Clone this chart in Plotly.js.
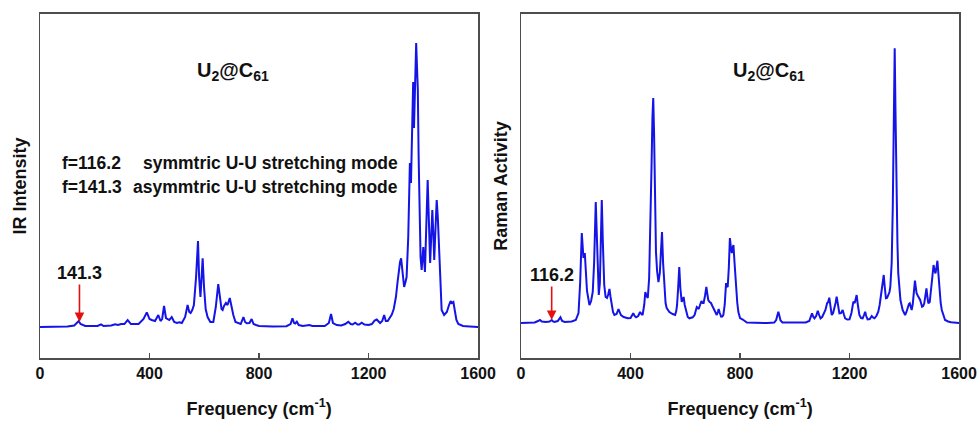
<!DOCTYPE html>
<html>
<head>
<meta charset="utf-8">
<script src="https://cdn.plot.ly/plotly-3.0.1.min.js"></script>
<style>html,body{margin:0;padding:0;background:#fff;}#chart{width:979px;height:421px;}</style>
</head>
<body>
<div id="chart"></div>
<script>
// IR spectrum (left panel): frequency (cm-1) and intensity (arb. units, baseline = 0)
const irFreq = [0,100,125,135,141,148,165,210,223,232,260,274,285,296,308,320,332,360,378,390,400,408,420,432,440,446,453,460,465,472,481,490,500,509,518,530,539,545,550,556,562,570,577,581,586,590,594,599,605,612,622,633,642,651,657,663,667,672,679,685,693,699,706,714,724,733,743,749,755,765,773,780,789,800,850,900,915,922,928,932,938,945,960,984,995,1040,1055,1063,1070,1084,1100,1115,1126,1135,1142,1151,1160,1166,1175,1185,1200,1212,1222,1230,1242,1250,1257,1263,1270,1278,1285,1292,1300,1306,1311,1315,1319,1324,1330,1335,1339,1345,1351,1355,1358,1363,1366,1370,1374,1377,1380,1383,1386,1390,1394,1400,1406,1411,1416,1420,1425,1429,1433,1437,1440,1444,1449,1453,1459,1463,1467,1476,1486,1494,1500,1505,1510,1516,1521,1528,1545,1570,1600];
const irInt  = [0,0.5,1.5,4,6,3,1,1,2.7,1,1.5,2.7,2,3,3,7,3,3,8,14.7,8,7,6,12,6,8,21,9,8,7,10,5,4,4.7,4,10,22,15,14,17,22,50,86,50,30,45,68.7,40,18,10,5,5,20,43,30,18,17,21,24,22,29,20,12,5,3.5,3,10,5,3.7,4,8,3,2,1,0.5,0.8,3,8.7,4,3.5,5.3,2,1,2,1,1,4,13,4,2,1.5,3,5.3,3,2.5,4.3,2.5,2.5,4.3,2.5,2,3,6.5,7.5,4,6,12,6,6,10,12.5,18,30,45,60,65,68.7,55,40,45,50,90,164,144,190,245,199,240,284,260,237,170,104,70,57,80,55,100,147,110,64,90,117,90,67,95,127,110,64,35,17,12,15,22,26,24,25,15,7,3,1,0.5,0];

// Raman spectrum (right panel): frequency (cm-1) and activity (arb. units, baseline = 0)
const ramanFreq = [0,50,62,69,76,91,104,112,117,122,134,144,150,160,185,200,210,216,222,225,228,233,236,241,250,256,262,267,273,277,281,284,288,291,295,299,304,309,314,318,323,327,331,336,341,349,356,362,365,375,390,400,410,415,420,428,435,440,444,450,454,459,463,468,472,477,480,483,486,489,493,497,502,507,511,515,519,524,528,532,542,554,563,567,570,574,578,582,587,591,594,598,603,609,615,621,627,634,642,646,649,654,659,663,667,672,677,680,684,689,694,699,704,710,715,719,722,726,731,735,739,744,749,752,755,759,763,767,770,773,776,780,785,790,794,800,810,816,825,900,925,932,936,940,944,948,955,985,1000,1040,1053,1058,1063,1068,1072,1078,1084,1089,1094,1100,1106,1112,1118,1122,1126,1130,1135,1140,1145,1149,1153,1158,1163,1169,1175,1180,1184,1192,1200,1207,1214,1219,1226,1231,1236,1242,1248,1253,1257,1261,1266,1274,1281,1286,1291,1298,1305,1310,1315,1320,1325,1329,1333,1337,1342,1346,1349,1354,1358,1362,1365,1368,1371,1375,1378,1382,1386,1394,1403,1408,1413,1417,1420,1424,1427,1431,1434,1439,1442,1445,1450,1455,1458,1465,1469,1473,1477,1481,1485,1488,1493,1497,1500,1504,1507,1511,1514,1518,1521,1525,1528,1533,1537,1543,1549,1560,1571,1600];
const ramanAct  = [0,0.5,2,3,1.5,1,1.5,3,1.5,1,2,5.7,2,1,1.5,3,10,40,90,80,65,70,55,32,18,22,31,60,121,80,40,28,40,80,123,80,38,26,25,28,34,26,18,11,8,9,14,10,8,6,4.7,5,9.7,7,5.7,7,11,9,8,18,31,27,25,45,88,160,205,225,190,130,71,52,41,50,72,91,60,31,20,15,11,9,8,12,18,35,56,35,21,24,26,18,11,6,4.7,5,5.7,8,16,15,14,18,22,20,20,27,36,30,23,21,20,17,14,10,8,11,14,10,6.3,6.5,8,18,40,37,36,55,85,75,70,75,78,60,38,20,11,5,3.5,2,0.5,0,0.5,3,8,11.3,7,2.5,0.5,0.5,0,0.5,2,5,9.7,6,4.7,7,12.3,8,4.7,6,9,13,19.7,21,25.3,16,8,10,14.7,20,26.3,16,9.7,10,13,8,4.7,3.5,3.7,10,21.3,20,28,17,8,5,4.7,8,11.3,7,3.7,4,7,5.5,4.7,7,11.3,18,29.7,40,48,35,24.7,25,28,31,36.3,60,116,200,274.7,210,133,80,49.7,33,23,13,8,11,16.3,19,19.7,15,13,19,26.3,42.3,36,29.7,27,25,23,16.3,17,19.7,26,34.7,25,19.7,21,32,43,52,58,52,49.7,56,62.3,48,33,20,13,7,3,1.5,0.7,0];

const tickVals = [0, 400, 800, 1200, 1600];
const tickText = ['0', '400', '800', '1200', '1600'];

const FONT = 'Liberation Sans, Arial, Helvetica, sans-serif';
const lineColor = '#1414e6';
const frameColor = '#4d4d4d';
const txt = '#111111';

const traces = [
  {x: irFreq, y: irInt, type: 'scatter', mode: 'lines', line: {color: lineColor, width: 2}, xaxis: 'x', yaxis: 'y', hoverinfo: 'x+y'},
  {x: ramanFreq, y: ramanAct, type: 'scatter', mode: 'lines', line: {color: lineColor, width: 2}, xaxis: 'x2', yaxis: 'y2', hoverinfo: 'x+y'}
];

function xAxis(domain, anchor) {
  return {
    domain: domain, anchor: anchor, range: [0, 1600],
    tickmode: 'array', tickvals: tickVals, ticktext: tickText,
    ticks: 'inside', ticklen: 5, tickwidth: 1.5, tickcolor: frameColor,
    showline: true, linecolor: frameColor, linewidth: 1.5, mirror: true,
    showgrid: false, zeroline: false, automargin: false,
    tickfont: {family: FONT, size: 16, color: txt, weight: 700},
    title: {text: 'Frequency (cm<sup>-1</sup>)', font: {family: FONT, size: 18, color: txt, weight: 700}, standoff: 21}
  };
}
function yAxis(range, anchor, title) {
  return {
    domain: [0.1496, 0.9668], anchor: anchor, range: range,
    showticklabels: false, ticks: '',
    showline: true, linecolor: frameColor, linewidth: 1.5, mirror: true,
    showgrid: false, zeroline: false, automargin: false,
    title: {text: title, font: {family: FONT, size: 18, color: txt, weight: 700}, standoff: 7}
  };
}

const annFont = {family: FONT, size: 18, color: txt};
const noteFont = {family: FONT, size: 17.5, color: txt};
const arrowRed = '#e41010';

const layout = {
  width: 979, height: 421,
  margin: {l: 0, r: 0, t: 0, b: 0},
  paper_bgcolor: '#ffffff', plot_bgcolor: '#ffffff',
  showlegend: false,
  xaxis: xAxis([0.0409, 0.4883], 'y'),
  yaxis: yAxis([-31, 313], 'x', 'IR Intensity'),
  xaxis2: xAxis([0.5322, 0.9796], 'y2'),
  yaxis2: yAxis([-35, 309], 'x2', 'Raman Activity'),
  annotations: [
    {xref: 'x', yref: 'y', x: 705, y: 255, text: '<b>U<sub>2</sub>@C<sub>61</sub></b>', showarrow: false, font: {family: FONT, size: 20, color: txt}},
    {xref: 'x2', yref: 'y2', x: 906, y: 251, text: '<b>U<sub>2</sub>@C<sub>61</sub></b>', showarrow: false, font: {family: FONT, size: 20, color: txt}},
    {xref: 'x', yref: 'y', x: 73, y: 164, xanchor: 'left', text: '<b>f=116.2</b>', showarrow: false, font: noteFont},
    {xref: 'x', yref: 'y', x: 1315, y: 164, xanchor: 'right', text: '<b>symmtric U-U stretching mode</b>', showarrow: false, font: noteFont},
    {xref: 'x', yref: 'y', x: 73, y: 140, xanchor: 'left', text: '<b>f=141.3</b>', showarrow: false, font: noteFont},
    {xref: 'x', yref: 'y', x: 1315, y: 140, xanchor: 'right', text: '<b>asymmtric U-U stretching mode</b>', showarrow: false, font: noteFont},
    {xref: 'x', yref: 'y', x: 144, y: 5, axref: 'x', ayref: 'y', ax: 144, ay: 54, text: '<b>141.3</b>', font: annFont,
     showarrow: true, arrowhead: 2, arrowsize: 1.2, arrowwidth: 1.6, arrowcolor: arrowRed, standoff: 0, startstandoff: 0},
    {xref: 'x2', yref: 'y2', x: 112, y: 3, axref: 'x2', ayref: 'y2', ax: 112, ay: 48, text: '<b>116.2</b>', font: annFont,
     showarrow: true, arrowhead: 2, arrowsize: 1.2, arrowwidth: 1.6, arrowcolor: arrowRed, standoff: 0, startstandoff: 0}
  ]
};

Plotly.newPlot('chart', traces, layout, {displayModeBar: false, staticPlot: true});
</script>
</body>
</html>
